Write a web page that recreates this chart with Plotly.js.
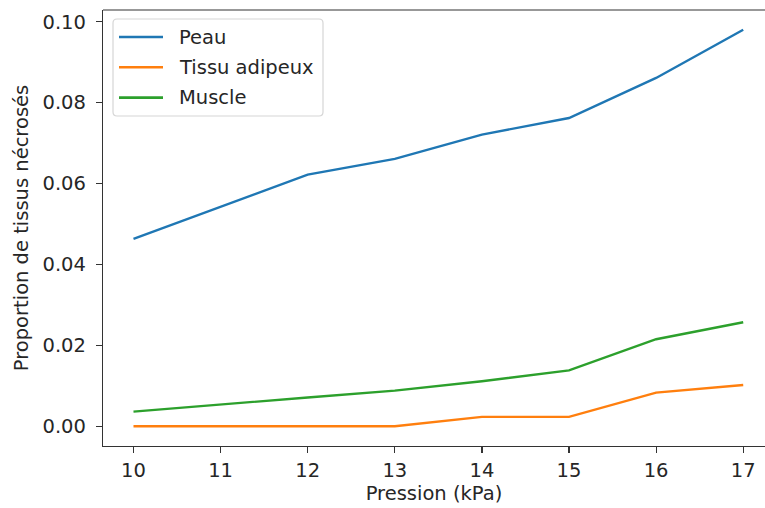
<!DOCTYPE html>
<html>
<head>
<meta charset="utf-8">
<script src="https://cdn.plot.ly/plotly-3.0.1.min.js"></script>
<style>html,body{margin:0;padding:0;background:#fff;}#chart{width:765px;height:508px;}</style>
</head>
<body>
<div id="chart"></div>
<script>
const pression = [10, 11, 12, 13, 14, 15, 16, 17];
const peau = [0.0463, 0.0543, 0.0622, 0.0661, 0.0721, 0.0762, 0.0861, 0.0980];
const tissuAdipeux = [0.0, 0.0, 0.0, 0.0, 0.0023, 0.0023, 0.0083, 0.0102];
const muscle = [0.0036, 0.0054, 0.0071, 0.0088, 0.0111, 0.0138, 0.0215, 0.0257];
const seriesNames = ["Peau", "Tissu adipeux", "Muscle"];
const yTicks = [0.00, 0.02, 0.04, 0.06, 0.08, 0.10];

const colors = ["#1f77b4", "#ff7f0e", "#2ca02c"];
const font = "DejaVu Sans, sans-serif";
const fs = 19.5;
const txt = "#262626";
const W = 765, H = 508, ML = 103, MR = 0, MT = 10, MB = 62;
const PW = W - ML - MR, PH = H - MT - MB;
const px = x => (x - ML) / PW;
const py = y => (H - MB - y) / PH;

const traces = [peau, tissuAdipeux, muscle].map((v, i) => ({
  x: pression, y: v, type: "scatter", mode: "lines", name: seriesNames[i],
  line: {color: colors[i], width: 2.4}, showlegend: false
}));

// custom legend (matplotlib style)
const shapes = [
  {type: "line", xref: "paper", yref: "paper", x0: 0, x1: 1, y0: 1, y1: 1, line: {color: "#333", width: 1.2}}
];
const annotations = [];
const lgL = 113, lgR = 323, lgT = 19, lgB = 116, r = 4;
shapes.push({
  type: "path", xref: "paper", yref: "paper",
  path: `M${px(lgL + r)},${py(lgT)} L${px(lgR - r)},${py(lgT)} Q${px(lgR)},${py(lgT)} ${px(lgR)},${py(lgT + r)} L${px(lgR)},${py(lgB - r)} Q${px(lgR)},${py(lgB)} ${px(lgR - r)},${py(lgB)} L${px(lgL + r)},${py(lgB)} Q${px(lgL)},${py(lgB)} ${px(lgL)},${py(lgB - r)} L${px(lgL)},${py(lgT + r)} Q${px(lgL)},${py(lgT)} ${px(lgL + r)},${py(lgT)} Z`,
  fillcolor: "rgba(255,255,255,0.8)", line: {color: "#d6d6d6", width: 1.2}
});
seriesNames.forEach((name, i) => {
  const yy = 37 + i * 30.3;
  shapes.push({type: "line", xref: "paper", yref: "paper", x0: px(119), x1: px(163), y0: py(yy), y1: py(yy),
    line: {color: colors[i], width: 2.6}});
  annotations.push({xref: "paper", yref: "paper", x: px(177), y: py(yy), xanchor: "left", yanchor: "middle",
    text: name, showarrow: false, font: {family: font, size: fs, color: txt}});
});

const layout = {
  width: W, height: H,
  margin: {l: ML, r: MR, t: MT, b: MB, pad: 0},
  paper_bgcolor: "#fff", plot_bgcolor: "#fff",
  font: {family: font, size: fs, color: txt},
  showlegend: false,
  xaxis: {
    range: [9.65, 17.25], tickvals: pression, ticktext: pression.map(String),
    showgrid: false, zeroline: false, showline: true, linecolor: "#333", linewidth: 1.2,
    ticks: "outside", ticklen: 6, tickwidth: 1.2, tickcolor: "#333",
    tickfont: {family: font, size: fs, color: txt},
    title: {text: "Pression (kPa)", font: {family: font, size: fs, color: txt}, standoff: 4}
  },
  yaxis: {
    range: [-0.0049, 0.1029], tickvals: yTicks, ticktext: yTicks.map(v => v.toFixed(2)),
    showgrid: false, zeroline: false, showline: true, linecolor: "#333", linewidth: 1.2,
    ticks: "outside", ticklen: 6, tickwidth: 1.2, tickcolor: "#333", ticklabelstandoff: 6,
    tickfont: {family: font, size: fs, color: txt},
    title: {text: "Proportion de tissus nécrosés", font: {family: font, size: fs, color: txt}, standoff: 8}
  },
  shapes: shapes,
  annotations: annotations
};
Plotly.newPlot("chart", traces, layout, {displayModeBar: false, staticPlot: true});
</script>
</body>
</html>
